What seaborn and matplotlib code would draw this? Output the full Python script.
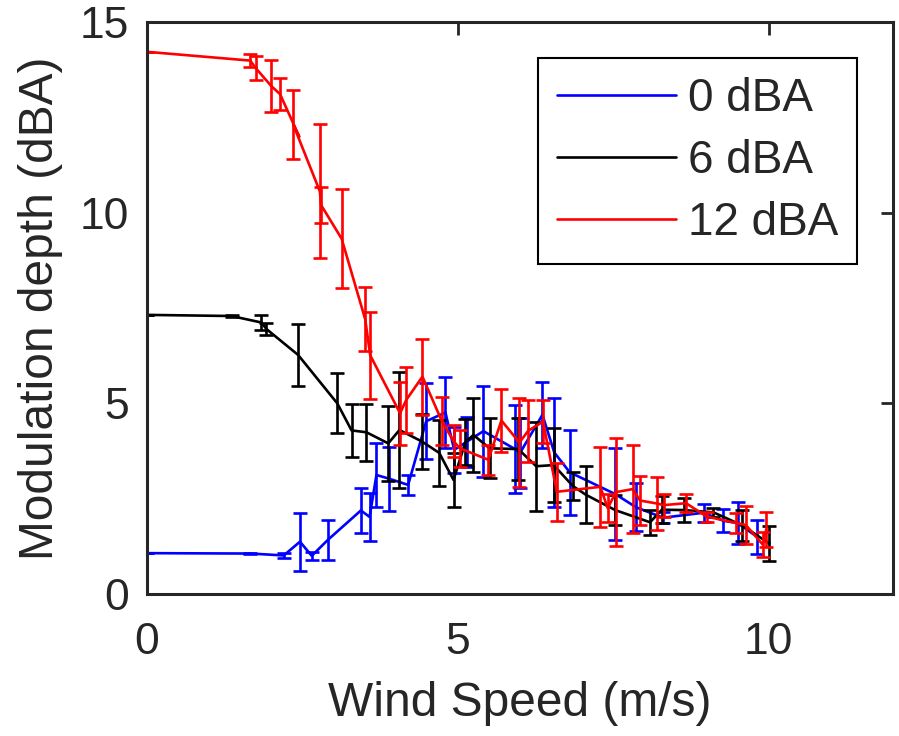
"""
Modulation depth vs wind speed, three masking levels, with error bars
"""

import numpy as np
import pandas as pd
import seaborn as sns
import matplotlib.pyplot as plt

# 0 dBA
wind_0 = [0.0, 1.66, 2.20, 2.46, 2.65, 2.91, 3.44, 3.58, 3.69, 3.90, 4.20, 4.49, 4.80, 4.94,
          5.14, 5.41, 5.92, 6.00, 6.36, 6.55, 6.80, 7.53, 7.87, 8.30, 8.95, 9.27, 9.50, 9.81]
depth_0 = [1.07, 1.06, 1.01, 1.37, 1.00, 1.42, 2.19, 2.02, 3.12, 3.02, 2.86, 4.53, 4.76, 3.78,
           3.99, 4.27, 3.80, 3.70, 4.70, 3.71, 3.19, 2.62, 2.27, 2.00, 2.13, 1.92, 1.86, 1.50]
err_0 = [0.0, 0.02, 0.07, 0.76, 0.11, 0.53, 0.58, 0.63, 0.83, 0.84, 0.26, 1.00, 0.94, 0.61,
         0.66, 1.19, 1.16, 0.92, 0.87, 1.42, 1.11, 1.20, 0.63, 0.15, 0.23, 0.30, 0.55, 0.44]

# 6 dBA
wind_6 = [0.0, 1.36, 1.84, 1.92, 2.43, 3.06, 3.29, 3.53, 3.88, 4.06, 4.42, 4.70, 4.93, 5.12,
          5.25, 5.51, 5.97, 6.26, 6.54, 6.85, 7.06, 7.53, 8.09, 8.28, 8.64, 9.11, 9.57, 10.01]
depth_6 = [7.32, 7.29, 7.12, 6.95, 6.27, 5.00, 4.29, 4.24, 3.95, 4.30, 4.00, 3.70, 2.99, 3.98,
           4.17, 3.82, 3.80, 3.35, 3.38, 2.83, 2.60, 2.20, 1.88, 2.21, 2.20, 2.14, 1.80, 1.32]
err_6 = [0.0, 0.03, 0.20, 0.16, 0.81, 0.79, 0.69, 0.75, 0.98, 1.53, 0.73, 0.87, 0.70, 0.60,
         0.96, 0.79, 0.81, 1.17, 0.98, 0.36, 0.75, 0.39, 0.33, 0.36, 0.31, 0.11, 0.40, 0.45]

# 12 dBA (one point without an error bar, the line doubles back there)
wind_12 = [0.0, 1.66, 1.75, 2.00, 2.14, 2.45, 2.35, 2.78, 2.80, 3.13, 3.51, 3.59, 4.07, 4.17,
           4.43, 4.74, 4.93, 5.03, 5.49, 5.70, 5.99, 6.13, 6.37, 6.59, 7.29, 7.41, 7.54, 7.81,
           7.93, 8.21, 8.31, 8.67, 9.00, 9.48, 9.63, 9.90, 9.96]
depth_12 = [14.22, 13.99, 13.79, 13.32, 13.11, 11.99, 12.32, 10.56, 10.20, 9.32, 7.20, 6.26,
            4.74, 5.09, 5.70, 4.54, 4.01, 3.82, 3.52, 4.55, 3.97, 4.28, 4.52, 2.68, 2.81, 2.25,
            2.67, 2.75, 2.45, 2.37, 2.33, 2.38, 2.03, 1.86, 1.81, 1.30, 1.69]
err_12 = [0.0, 0.16, 0.31, 0.69, 0.42, np.nan, 0.90, 1.76, 0.47, 1.30, 0.84, 1.14, 0.83, 0.87,
          1.00, 0.63, 0.41, 0.48, 0.40, 0.83, 1.17, 0.81, 0.57, 0.76, 1.05, 0.37, 1.41, 1.16,
          0.64, 0.69, 0.30, 0.24, 0.13, 0.27, 0.50, 0.32, 0.45]

series = [
    ("0 dBA", wind_0, depth_0, err_0, "#0000ff"),
    ("6 dBA", wind_6, depth_6, err_6, "#000000"),
    ("12 dBA", wind_12, depth_12, err_12, "#ff0000"),
]

sns.set_style("white")
plt.rcParams["font.family"] = ["Liberation Sans", "DejaVu Sans"]

fig = plt.figure(figsize=(8.99, 7.36), dpi=100)
ax = fig.add_axes([0.1635, 0.193, 0.83, 0.777])

for label, x, y, e, color in series:
    df = pd.DataFrame({"wind": x, "depth": y, "err": e})
    sns.lineplot(data=df, x="wind", y="depth", sort=False, estimator=None,
                 color=color, linewidth=1.9, label=label, ax=ax)
    ax.errorbar(df["wind"], df["depth"], yerr=df["err"], fmt="none", ecolor=color,
                elinewidth=1.9, capsize=4.8, capthick=1.9)

ax.set_xlim(0, 12)
ax.set_ylim(0, 15)
ax.set_xticks([0, 5, 10])
ax.set_yticks([0, 5, 10, 15])

dark = "#262626"
for sp in ax.spines.values():
    sp.set_color(dark)
    sp.set_linewidth(2.2)
ax.tick_params(direction="in", length=9, width=2, colors=dark, labelsize=32,
               top=True, right=True)
ax.tick_params(axis="x", pad=20)
ax.tick_params(axis="y", pad=13)
ax.set_xlabel("Wind Speed (m/s)", fontsize=34.5, color=dark, labelpad=13)
ax.set_ylabel("Modulation depth (dBA)", fontsize=34.5, color=dark, labelpad=12)

leg = ax.legend(loc="upper right", bbox_to_anchor=(0.952, 0.937), borderaxespad=0,
                fontsize=33, frameon=True, fancybox=False, framealpha=1,
                handlelength=2.6, handletextpad=0.25, labelspacing=0.39, borderpad=0.42)
leg.get_frame().set_edgecolor("black")
leg.get_frame().set_linewidth(1.5)

fig.savefig("out.png", dpi=100)
plt.close()
